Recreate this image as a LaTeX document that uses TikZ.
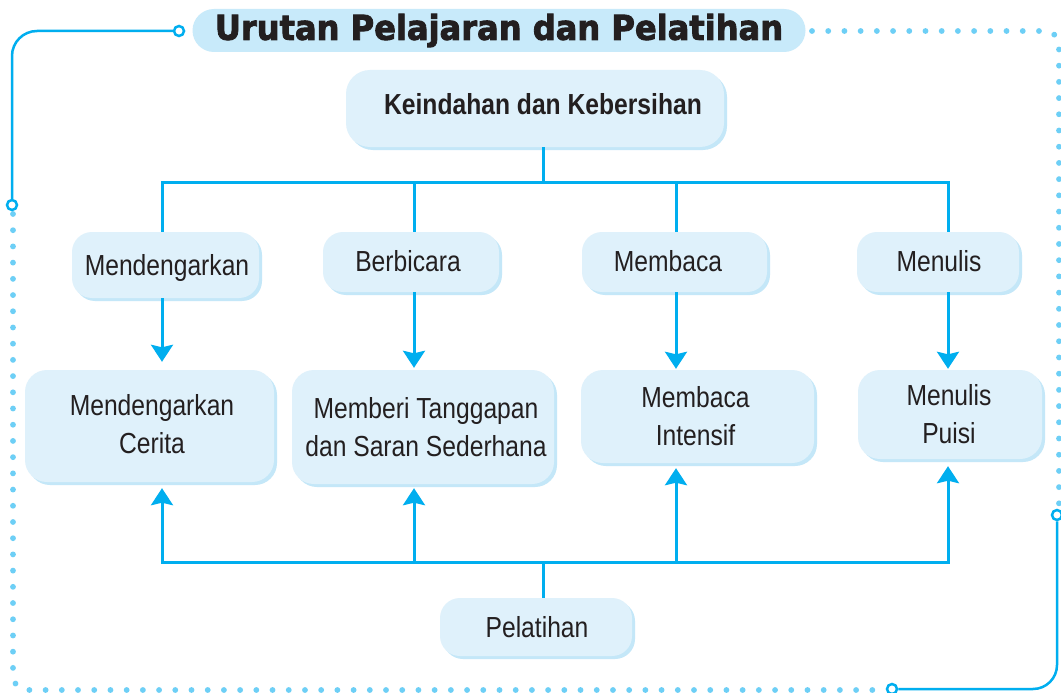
\documentclass[tikz,border=0pt]{standalone}
\usepackage{fontspec}
\usetikzlibrary{arrows.meta,shadows}
\newfontfamily\bodyfont{Liberation Sans}[FakeStretch=0.85]
\newfontfamily\titlefont{DejaVu Sans Bold}[FakeBold=2.6]
\definecolor{cyanline}{HTML}{00AEEF}
\definecolor{dotblue}{HTML}{6DCFF6}
\definecolor{boxfill}{HTML}{DFF1FB}
\definecolor{boxshadow}{HTML}{C4E7F8}
\definecolor{pillfill}{HTML}{C8EAFA}
\definecolor{txt}{HTML}{231F20}
\begin{document}
\begin{tikzpicture}[x=1pt,y=-1pt,
  box/.style={rectangle, rounded corners=20pt, fill=boxfill, inner sep=0pt,
    drop shadow={shadow xshift=3pt, shadow yshift=-3pt, fill=boxshadow, opacity=1}},
  lbl/.style={font=\bodyfont\fontsize{29}{38}\selectfont, text=txt, align=center, inner sep=0pt, anchor=base},
  conn/.style={draw=cyanline, line width=3pt},
  arr/.style={conn, -{Stealth[length=17pt,width=22pt,inset=2.5pt]}},
  ring/.style={circle, draw=cyanline, line width=2.5pt, fill=white, minimum size=10pt, inner sep=0pt},
  border/.style={draw=cyanline, line width=2.5pt},
  dots/.style={draw=dotblue, line width=5.8pt, line cap=round, dash pattern=on 0.01pt off 16.2pt, rounded corners=14pt},
  pill/.style={rectangle, rounded corners=21.5pt, fill=pillfill, minimum width=613pt, minimum height=43pt, inner sep=0pt}
]
\useasboundingbox (0,0) rectangle (1061,693);
\fill[white] (0,0) rectangle (1061,693);

% frame decorations
\draw[dots] (13,214) -- (13,690) -- (878,690);
\draw[dots] (812,31) -- (1059,31) -- (1059,505);
\node[ring] (r1) at (179,31) {};
\node[ring] (r2) at (12,205) {};
\node[ring] (r3) at (892,689) {};
\node[ring] (r4) at (1057,515) {};
\draw[border, rounded corners=25pt] (r1.west) -- (12,31) -- (r2.north);
\draw[border, rounded corners=24pt] (r3.east) -- (1057,689) -- (r4.south);

% title
\node[pill] (title) at (499,30.5) {\resizebox{568pt}{26pt}{\titlefont\color{txt}Urutan Pelajaran dan Pelatihan}};

% boxes
\node[box, minimum width=378pt, minimum height=77pt, rounded corners=24pt] (main) at (535,108.5) {};
\node[box, minimum width=187pt, minimum height=66pt] (b1) at (165.5,265) {};
\node[box, minimum width=176pt, minimum height=60pt] (b2) at (411,262) {};
\node[box, minimum width=185pt, minimum height=60pt] (b3) at (674.5,262) {};
\node[box, minimum width=162pt, minimum height=60pt] (b4) at (938,262) {};
\node[box, minimum width=249pt, minimum height=112pt, rounded corners=22pt] (c1) at (149.5,426) {};
\node[box, minimum width=262pt, minimum height=114pt, rounded corners=22pt] (c2) at (423,427) {};
\node[box, minimum width=233pt, minimum height=93pt, rounded corners=22pt] (c3) at (697.5,416.5) {};
\node[box, minimum width=184pt, minimum height=89pt, rounded corners=22pt] (c4) at (950,414.5) {};
\node[box, minimum width=192pt, minimum height=58pt] (pel) at (536,627) {};

% labels (base anchor of two-line labels is the last line)
\node[lbl, font=\bodyfont\bfseries\fontsize{29}{38}\selectfont] (tmain) at (543,114) {Keindahan dan Kebersihan};
\node[lbl] (tb1) at (167,275) {Mendengarkan};
\node[lbl] (tb2) at (408,271) {Berbicara};
\node[lbl] (tb3) at (668,271) {Membaca};
\node[lbl] (tb4) at (939,271) {Menulis};
\node[lbl] (tc1) at (152,453) {Mendengarkan\\Cerita};
\node[lbl] (tc2) at (426,456) {Memberi Tanggapan\\dan Saran Sederhana};
\node[lbl] (tc3) at (695.5,445) {Membaca\\Intensif};
\node[lbl] (tc4) at (949,443) {Menulis\\Puisi};
\node[lbl] (tpel) at (537,637) {Pelatihan};

% top bus
\coordinate (top) at (543,182);
\coordinate (j1) at (162,182);
\coordinate (j2) at (414,182);
\coordinate (j3) at (676,182);
\coordinate (j4) at (948,182);
\draw[conn] (main.south -| top) -- (top);
\draw[conn, line cap=rect] (j1) -- (j4);
\draw[conn] (j1) -- (j1 |- b1.north);
\draw[conn] (j2) -- (j2 |- b2.north);
\draw[conn] (j3) -- (j3 |- b3.north);
\draw[conn] (j4) -- (j4 |- b4.north);

% down arrows
\draw[arr, shorten >=8pt] (b1.south -| j1) -- (c1.north -| j1);
\draw[arr, shorten >=2pt] (b2.south -| j2) -- (c2.north -| j2);
\draw[arr, shorten >=1pt] (b3.south -| j3) -- (c3.north -| j3);
\draw[arr, shorten >=1pt] (b4.south -| j4) -- (c4.north -| j4);

% bottom bus
\coordinate (bot) at (543,562);
\coordinate (k1) at (162,562);
\coordinate (k2) at (414,562);
\coordinate (k3) at (676,562);
\coordinate (k4) at (948,562);
\draw[conn, line cap=rect] (k1) -- (k4);
\draw[arr, shorten >=6pt] (k1) -- (k1 |- c1.south);
\draw[arr, shorten >=4pt] (k2) -- (k2 |- c2.south);
\draw[arr, shorten >=5pt] (k3) -- (k3 |- c3.south);
\draw[arr, shorten >=7pt] (k4) -- (k4 |- c4.south);
\draw[conn] (bot) -- (bot |- pel.north);
\end{tikzpicture}
\end{document}
